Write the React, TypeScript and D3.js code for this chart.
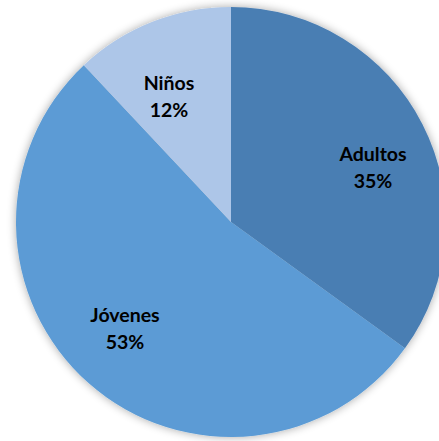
import React from "react";
import * as d3 from "d3";

const categories = ["Adultos", "Jóvenes", "Niños"];
const values = [35, 53, 12];
const colors = ["#4a7eb3", "#5b9bd5", "#adc6e8"];
const labelPos: [number, number][] = [[373, 161], [125, 322], [169, 90]];

export default function App() {
  const W = 439, H = 441;
  const cx = 231, cy = 222, r = 215;
  const pie = d3.pie<number>().sort(null).value((d) => d)(values);
  const arc = d3.arc<d3.PieArcDatum<number>>().innerRadius(0).outerRadius(r);
  return (
    <svg width={W} height={H} style={{ position: "absolute", left: 0, top: 0 }}>
      <defs>
        <filter id="sh" x="-20%" y="-20%" width="140%" height="140%">
          <feGaussianBlur in="SourceAlpha" stdDeviation="5" />
          <feOffset dx="0" dy="0" result="b" />
          <feComponentTransfer>
            <feFuncA type="linear" slope="0.35" />
          </feComponentTransfer>
          <feMerge>
            <feMergeNode />
            <feMergeNode in="SourceGraphic" />
          </feMerge>
        </filter>
      </defs>
      <rect width={W} height={H} fill="#ffffff" />
      <g transform={`translate(${cx},${cy})`} filter="url(#sh)">
        {pie.map((p, i) => (
          <path key={i} d={arc(p) || ""} fill={colors[i]} />
        ))}
      </g>
      {pie.map((p, i) => (
        <text key={i} x={labelPos[i][0]} textAnchor="middle" fontFamily="Lato, sans-serif" fontWeight="bold" fontSize={19.5} fill="#000">
          <tspan x={labelPos[i][0]} y={labelPos[i][1]}>{categories[i]}</tspan>
          <tspan x={labelPos[i][0]} y={labelPos[i][1] + 27}>{`${values[i]}%`}</tspan>
        </text>
      ))}
    </svg>
  );
}
